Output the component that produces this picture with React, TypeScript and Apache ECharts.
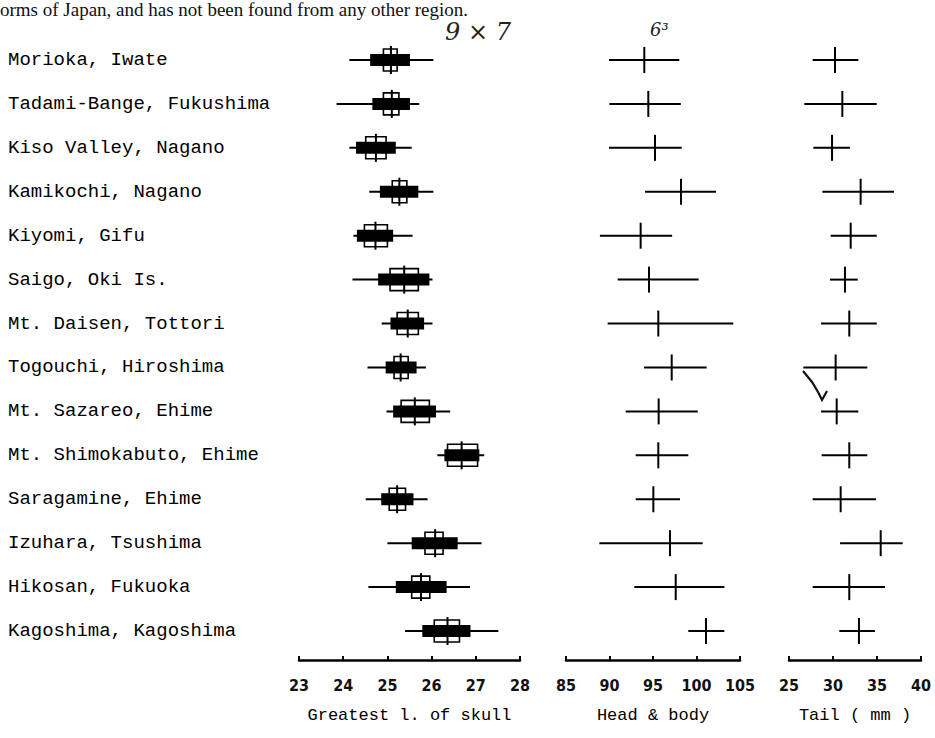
import React, { useEffect, useRef } from "react";
import * as echarts from "echarts";

const localities = [
  "Morioka, Iwate",
  "Tadami-Bange, Fukushima",
  "Kiso Valley, Nagano",
  "Kamikochi, Nagano",
  "Kiyomi, Gifu",
  "Saigo, Oki Is.",
  "Mt. Daisen, Tottori",
  "Togouchi, Hiroshima",
  "Mt. Sazareo, Ehime",
  "Mt. Shimokabuto, Ehime",
  "Saragamine, Ehime",
  "Izuhara, Tsushima",
  "Hikosan, Fukuoka",
  "Kagoshima, Kagoshima",
];

// Greatest length of skull (mm)
const skullMin = [24.14, 23.85, 24.14, 24.59, 24.23, 24.21, 24.87, 24.55, 24.98, 26.13, 24.51, 25.0, 24.57, 25.4];
const skullMax = [26.04, 25.72, 25.55, 26.04, 25.57, 26.02, 26.02, 25.87, 26.42, 27.19, 25.91, 27.13, 26.87, 27.51];
const skullSdLo = [24.61, 24.66, 24.29, 24.83, 24.31, 24.79, 25.07, 24.96, 25.13, 26.29, 24.86, 25.55, 25.19, 25.79];
const skullSdHi = [25.51, 25.51, 25.19, 25.7, 25.13, 25.95, 25.83, 25.66, 26.1, 27.08, 25.59, 26.59, 26.34, 26.88];
const skullSeLo = [24.91, 24.91, 24.51, 25.11, 24.48, 25.06, 25.22, 25.15, 25.31, 26.36, 25.04, 25.85, 25.55, 26.06];
const skullSeHi = [25.22, 25.26, 24.97, 25.44, 25.0, 25.7, 25.7, 25.47, 25.95, 27.04, 25.41, 26.26, 25.96, 26.63];
const skullMean = [25.08, 25.1, 24.74, 25.27, 24.73, 25.38, 25.46, 25.3, 25.62, 26.68, 25.22, 26.08, 25.76, 26.36];

// Head & body (mm)
const headMin = [89.94, 89.98, 89.94, 94.08, 88.9, 90.94, 89.79, 93.97, 91.86, 93.01, 93.01, 88.83, 92.85, 99.06];
const headMax = [98.02, 98.2, 98.3, 102.24, 97.2, 100.25, 104.23, 101.17, 100.14, 99.06, 98.1, 100.71, 103.2, 103.2];
const headMean = [94.0, 94.46, 95.23, 98.22, 93.58, 94.54, 95.61, 97.15, 95.65, 95.61, 95.04, 96.95, 97.61, 101.09];

// Tail (mm)
const tailMin = [27.69, 26.74, 27.77, 28.79, 29.73, 29.66, 28.64, 26.63, 28.64, 28.71, 27.69, 30.8, 27.69, 30.72];
const tailMax = [32.88, 34.97, 31.93, 36.93, 34.97, 32.81, 34.97, 33.9, 32.88, 33.9, 34.89, 37.92, 35.91, 34.77];
const tailMean = [30.23, 31.06, 29.89, 33.14, 32.01, 31.36, 31.85, 30.3, 30.42, 31.85, 30.87, 35.42, 31.85, 32.95];

const mono = "'Liberation Mono', 'DejaVu Sans Mono', monospace";
const narrow = "'Liberation Sans Narrow', 'DejaVu Sans Condensed', 'Liberation Sans', sans-serif";

export default function App() {
  const ref = useRef<HTMLDivElement>(null);

  useEffect(() => {
    if (!ref.current) return;
    const chart = echarts.init(ref.current, null, { renderer: "svg" });

    const skullData = localities.map((_, i) => [
      i, skullMin[i], skullMax[i], skullSdLo[i], skullSdHi[i], skullSeLo[i], skullSeHi[i], skullMean[i],
    ]);
    const headData = localities.map((_, i) => [i, headMin[i], headMax[i], headMean[i]]);
    const tailData = localities.map((_, i) => [i, tailMin[i], tailMax[i], tailMean[i]]);

    const gridTop = 38;
    const gridHeight = 615;

    const xAxisCommon = (idx: number, min: number, max: number, interval: number, name: string) => ({
      type: "value",
      gridIndex: idx,
      min,
      max,
      interval,
      offset: 7,
      position: "bottom",
      name,
      nameLocation: "middle",
      nameGap: 47,
      nameTextStyle: { fontFamily: mono, fontSize: 17, color: "#000" },
      axisLine: { show: true, onZero: false, lineStyle: { color: "#000", width: 2.5 } },
      axisTick: { show: true, inside: true, length: 4, lineStyle: { color: "#000", width: 2 } },
      axisLabel: {
        fontFamily: narrow,
        fontWeight: "bold",
        fontSize: 16,
        color: "#111",
        margin: 17,
      },
      splitLine: { show: false },
    });

    const yAxisCommon = (idx: number, showLabels: boolean) => ({
      type: "category",
      gridIndex: idx,
      data: localities,
      inverse: true,
      axisLine: { show: false },
      axisTick: { show: false },
      splitLine: { show: false },
      axisLabel: showLabels
        ? {
            show: true,
            align: "left",
            margin: 291,
            fontFamily: mono,
            fontSize: 19,
            color: "#000",
          }
        : { show: false },
    });

    const crossItem = (params: any, api: any) => {
      const cat = api.value(0);
      const a = api.coord([api.value(1), cat]);
      const b = api.coord([api.value(2), cat]);
      const m = api.coord([api.value(3), cat]);
      const y = a[1];
      return {
        type: "group",
        children: [
          { type: "line", shape: { x1: a[0], y1: y, x2: b[0], y2: y }, style: { stroke: "#000", lineWidth: 2 } },
          { type: "line", shape: { x1: m[0], y1: y - 13, x2: m[0], y2: y + 13 }, style: { stroke: "#000", lineWidth: 2 } },
        ],
      };
    };

    const skullItem = (params: any, api: any) => {
      const cat = api.value(0);
      const a = api.coord([api.value(1), cat]);
      const b = api.coord([api.value(2), cat]);
      const sdL = api.coord([api.value(3), cat]);
      const sdH = api.coord([api.value(4), cat]);
      const seL = api.coord([api.value(5), cat]);
      const seH = api.coord([api.value(6), cat]);
      const m = api.coord([api.value(7), cat]);
      const y = a[1];
      return {
        type: "group",
        children: [
          { type: "line", shape: { x1: a[0], y1: y, x2: b[0], y2: y }, style: { stroke: "#000", lineWidth: 2 } },
          {
            type: "rect",
            shape: { x: seL[0], y: y - 11, width: seH[0] - seL[0], height: 22 },
            style: { fill: "#fff", stroke: "#000", lineWidth: 1.6 },
          },
          {
            type: "rect",
            shape: { x: sdL[0], y: y - 6, width: sdH[0] - sdL[0], height: 12 },
            style: { fill: "#000" },
          },
          { type: "line", shape: { x1: m[0], y1: y - 14, x2: m[0], y2: y + 14 }, style: { stroke: "#000", lineWidth: 2 } },
        ],
      };
    };

    const option: any = {
      animation: false,
      backgroundColor: "#fff",
      grid: [
        { left: 299, width: 221, top: gridTop, height: gridHeight },
        { left: 566, width: 174, top: gridTop, height: gridHeight },
        { left: 789, width: 132, top: gridTop, height: gridHeight },
      ],
      xAxis: [
        xAxisCommon(0, 23, 28, 1, "Greatest l. of skull"),
        xAxisCommon(1, 85, 105, 5, "Head & body"),
        xAxisCommon(2, 25, 40, 5, "Tail ( mm )"),
      ],
      yAxis: [yAxisCommon(0, true), yAxisCommon(1, false), yAxisCommon(2, false)],
      series: [
        {
          type: "custom",
          xAxisIndex: 0,
          yAxisIndex: 0,
          renderItem: skullItem,
          data: skullData,
          encode: { x: [1, 2], y: 0 },
        },
        {
          type: "custom",
          xAxisIndex: 1,
          yAxisIndex: 1,
          renderItem: crossItem,
          data: headData,
          encode: { x: [1, 2], y: 0 },
        },
        {
          type: "custom",
          xAxisIndex: 2,
          yAxisIndex: 2,
          renderItem: crossItem,
          data: tailData,
          encode: { x: [1, 2], y: 0 },
        },
      ],
      graphic: [
        {
          type: "text",
          left: 0,
          top: 0,
          style: {
            text: "orms of Japan, and has not been found from any other region.",
            fontFamily: "'Liberation Serif', 'DejaVu Serif', serif",
            fontSize: 19,
            fill: "#111",
          },
        },
        {
          type: "text",
          x: 445,
          y: 20,
          style: {
            text: "9 \u00d7 7",
            fontFamily: "'DejaVu Serif', serif",
            fontStyle: "italic",
            fontSize: 24,
            fill: "#222",
          },
        },
        {
          type: "text",
          x: 650,
          y: 20,
          style: {
            text: "6\u00b3",
            fontFamily: "'DejaVu Serif', serif",
            fontStyle: "italic",
            fontSize: 18,
            fill: "#222",
          },
        },
        {
          type: "polyline",
          shape: { points: [[803, 371], [812, 382], [818, 392], [822, 400], [827, 391]] },
          style: { stroke: "#111", lineWidth: 2.2, fill: "none" },
        },
      ],
    };

    chart.setOption(option);
    return () => chart.dispose();
  }, []);

  return (
    <div
      ref={ref}
      style={{ position: "absolute", left: 0, top: 0, width: 935, height: 738, background: "#fff" }}
    />
  );
}
